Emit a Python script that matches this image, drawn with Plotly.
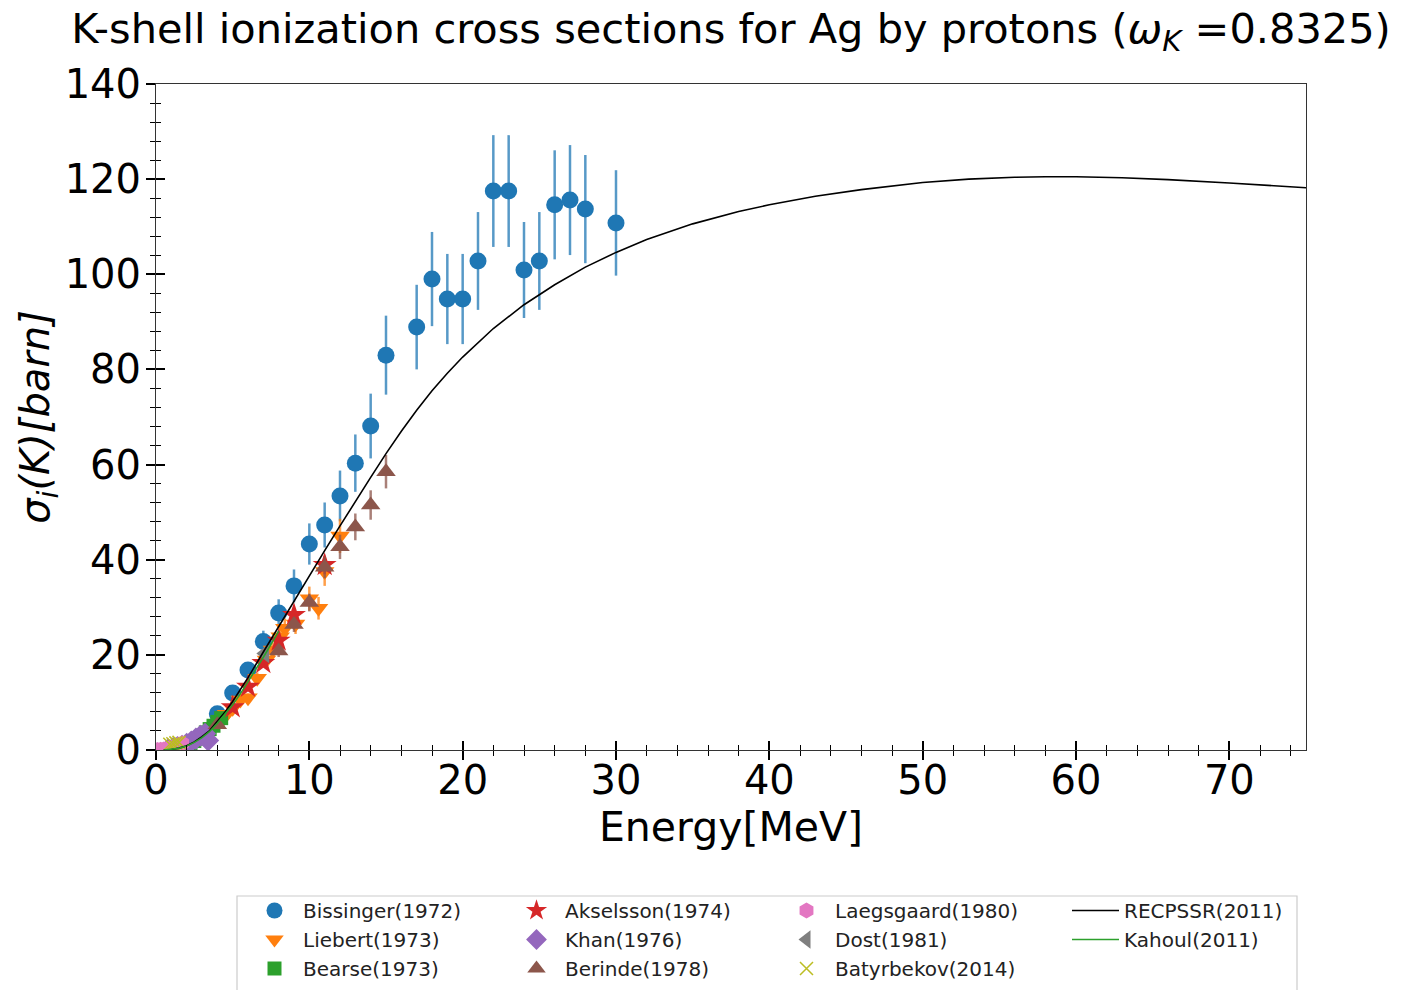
import plotly.graph_objects as go

# ---------------- data ----------------
bis_E = [4, 5, 6, 7, 8, 9, 10, 11, 12, 13, 14, 15, 17, 18, 19, 20, 21, 22, 23, 24, 25, 26, 27, 28, 30]
bis_s = [7.6, 12.0, 16.8, 22.8, 28.8, 34.5, 43.3, 47.3, 53.4, 60.3, 68.1, 83.0, 88.9, 99.0, 94.8, 94.8,
         102.8, 117.5, 117.5, 100.9, 102.8, 114.6, 115.6, 113.7, 110.8]
bis_err_pct = 10

lie_E = [4.3, 4.6, 5.0, 5.5, 6.0, 6.6, 7.2, 7.6, 8.1, 8.4, 9.1, 10.0, 10.6, 11.0, 12.0]
lie_s = [6.3, 7.5, 8.8, 10.5, 11.0, 15.1, 18.9, 21.0, 23.8, 25.6, 26.5, 31.8, 29.8, 37.5, 45.0]
lie_err_pct = 8

bea_E = [2.0, 2.25, 2.5, 2.75, 3.0, 3.25, 3.5, 3.75, 4.0, 4.25]
bea_s = [1.0, 1.4, 1.9, 2.4, 3.0, 3.7, 4.4, 5.1, 5.9, 6.7]
bea_err_pct = 8

aks_E = [5, 6, 7, 8, 9, 11]
aks_s = [9.0, 13.3, 18.3, 23.0, 28.4, 38.9]
aks_err_pct = 5

kha_E = [0.8, 1.1, 1.4, 1.7, 2.0, 2.3, 2.6, 2.9, 3.2, 3.4]
kha_s = [0.15, 0.35, 0.6, 0.9, 1.3, 1.8, 2.4, 3.0, 3.4, 2.0]
kha_err_pct = 6

ber_E = [4, 8, 9, 10, 11, 12, 13, 14, 15]
ber_s = [5.3, 20.8, 26.4, 31.0, 38.4, 42.7, 46.9, 51.5, 58.5]
ber_err_pct = 6

lae_E = [0.1, 0.3, 0.5, 0.7, 0.9, 1.1, 1.3, 1.5, 1.7]
lae_s = [0.01, 0.03, 0.1, 0.2, 0.35, 0.55, 0.8, 1.1, 1.4]
lae_err_pct = 5

dos_E = [7.1]
dos_s = [20.3]
dos_err_pct = 5

bat_E = [0.9, 1.1, 1.3, 1.5]
bat_s = [1.2, 1.3, 1.5, 1.6]
bat_err_pct = 5

rec_E = [0.5, 1, 1.5, 2, 2.5, 3, 3.5, 4, 4.5, 5, 5.5, 6, 7, 8, 9, 10, 11, 12, 13, 14, 15, 16, 17, 18,
         19, 20, 22, 24, 26, 28, 30, 32, 35, 38, 40, 43, 46, 50, 53, 56, 58, 60, 63, 66, 70, 75]
rec_s = [0.01, 0.1, 0.4, 0.9, 1.7, 2.8, 4.1, 6.0, 8.0, 10.2, 12.6, 15.2, 20.6, 26.0, 31.3, 36.6, 41.9,
         47.1, 52.3, 57.3, 62.3, 67.0, 71.4, 75.5, 79.2, 82.6, 88.6, 93.6, 97.8, 101.5, 104.6, 107.3,
         110.6, 113.2, 114.6, 116.4, 117.8, 119.3, 120.0, 120.4, 120.5, 120.5, 120.3, 119.9, 119.2, 118.2]

kah_E = [0.5, 1, 1.5, 2, 2.5, 3, 3.5, 4, 4.5, 5, 5.5, 6, 6.5, 7, 7.5, 8]
kah_s = [0.01, 0.1, 0.35, 0.85, 1.6, 2.6, 3.9, 5.6, 7.5, 9.5, 11.8, 14.3, 16.8, 19.5, 22.2, 25.0]

x_ticks = [0, 10, 20, 30, 40, 50, 60, 70]
y_ticks = [0, 20, 40, 60, 80, 100, 120, 140]

# ---------------- figure ----------------
FONT = "DejaVu Sans"
W, H = 1419, 990
L, R, T, B = 156, 1306, 84, 750


def px_x(p):
    return (p - L) / (R - L)


def px_y(p):
    return (B - p) / (B - T)


def rgba(hex_col, a):
    h = hex_col.lstrip("#")
    return "rgba(%d,%d,%d,%s)" % (int(h[0:2], 16), int(h[2:4], 16), int(h[4:6], 16), a)


fig = go.Figure()

series = [
    # name, E, s, err, color, symbol, size, legend, rank
    ("Bissinger(1972)", bis_E, bis_s, bis_err_pct, "#1f77b4", "circle", 17, "legend", 1),
    ("Liebert(1973)", lie_E, lie_s, lie_err_pct, "#ff7f0e", "triangle-down", 17, "legend", 2),
    ("Bearse(1973)", bea_E, bea_s, bea_err_pct, "#2ca02c", "square", 14, "legend", 3),
    ("Akselsson(1974)", aks_E, aks_s, aks_err_pct, "#d62728", "star", 18, "legend2", 1),
    ("Khan(1976)", kha_E, kha_s, kha_err_pct, "#9467bd", "diamond", 17, "legend2", 2),
    ("Berinde(1978)", ber_E, ber_s, ber_err_pct, "#8c564b", "triangle-up", 17, "legend2", 3),
    ("Laegsgaard(1980)", lae_E, lae_s, lae_err_pct, "#e377c2", "hexagon", 16, "legend3", 1),
    ("Dost(1981)", dos_E, dos_s, dos_err_pct, "#7f7f7f", "triangle-left", 17, "legend3", 2),
]

for name, E, s, err, col, sym, size, leg, rank in series:
    fig.add_trace(go.Scatter(
        x=E, y=s, mode="markers", name=name,
        marker=dict(symbol=sym, size=size, color=col, line=dict(width=0)),
        error_y=dict(type="percent", value=err, color=rgba(col, 0.75), thickness=2.5, width=0),
        legend=leg, legendrank=rank,
    ))

fig.add_trace(go.Scatter(
    x=bat_E, y=bat_s, mode="markers", name="Batyrbekov(2014)",
    marker=dict(symbol="x-thin-open", size=13, color="#bcbd22", line=dict(width=1.5, color="#bcbd22")),
    error_y=dict(type="percent", value=bat_err_pct, color="#bcbd22", thickness=1.5, width=0),
    legend="legend3", legendrank=3,
))

fig.add_trace(go.Scatter(
    x=rec_E, y=rec_s, mode="lines", name="RECPSSR(2011)", line=dict(color="black", width=1.6),
    legend="legend4", legendrank=1,
))
fig.add_trace(go.Scatter(
    x=kah_E, y=kah_s, mode="lines", name="Kahoul(2011)", line=dict(color="#2ca02c", width=1.6),
    legend="legend4", legendrank=2,
))

axis_common = dict(showgrid=False, zeroline=False)

fig.update_layout(
    width=W, height=H,
    margin=dict(l=L, r=W - R, t=T, b=H - B, autoexpand=False),
    paper_bgcolor="white", plot_bgcolor="white",
    font=dict(family=FONT, color="black"),
    title=dict(
        text="K-shell ionization cross sections for Ag by protons (<i>ω</i><sub><i>K</i></sub> =0.8325)",
        font=dict(size=41.5, family=FONT, color="black"),
        x=0.5, xref="paper", xanchor="center",
        y=1 - 28 / H, yref="container", yanchor="middle",
    ),
    xaxis=dict(
        range=[0, 75], tickvals=x_ticks, ticks="outside", ticklen=9, tickwidth=2, tickcolor="black",
        minor=dict(dtick=2, ticks="outside", ticklen=5, tickwidth=1, tickcolor="black"),
        showline=True, linecolor="#333333", linewidth=1, mirror=True,
        tickfont=dict(size=40, family=FONT), ticklabelstandoff=-14,
        title=dict(text="Energy[MeV]", font=dict(size=41, family=FONT), standoff=4),
        **axis_common,
    ),
    yaxis=dict(
        range=[0, 140], tickvals=y_ticks, ticks="outside", ticklen=9, tickwidth=2, tickcolor="black",
        minor=dict(dtick=4, ticks="outside", ticklen=5, tickwidth=1, tickcolor="black"),
        showline=True, linecolor="#333333", linewidth=1, mirror=True,
        tickfont=dict(size=40, family=FONT), ticklabelstandoff=-3,
        title=dict(text="<i>σ<sub>i</sub>(K)[barn]</i>", font=dict(size=40, family=FONT), standoff=2),
        **axis_common,
    ),
    xaxis2=dict(
        range=[0, 75], overlaying="x", anchor="y", side="bottom", tickvals=x_ticks,
        ticks="inside", ticklen=9, tickwidth=2, tickcolor="black", showticklabels=False,
        minor=dict(dtick=2, ticks="inside", ticklen=5, tickwidth=1, tickcolor="black"),
        showline=False, **axis_common,
    ),
    yaxis2=dict(
        range=[0, 140], overlaying="y", anchor="x", side="left", tickvals=y_ticks,
        ticks="inside", ticklen=9, tickwidth=2, tickcolor="black", showticklabels=False,
        minor=dict(dtick=4, ticks="inside", ticklen=5, tickwidth=1, tickcolor="black"),
        showline=False, **axis_common,
    ),
    shapes=[dict(
        type="rect", xref="paper", yref="paper",
        x0=px_x(237), x1=px_x(1297), y0=px_y(896), y1=px_y(996),
        line=dict(color="#cccccc", width=1.2), fillcolor="rgba(0,0,0,0)", layer="below",
    )],
)

leg_common = dict(
    orientation="v", xanchor="left", yanchor="top", yref="paper", xref="paper",
    bgcolor="rgba(0,0,0,0)", borderwidth=0, itemwidth=47, traceorder="normal",
    font=dict(size=20, family=FONT, color="#222222"), itemclick=False,
)
ly = px_y(891)
fig.update_layout(
    legend=dict(x=px_x(246), y=ly, **leg_common),
    legend2=dict(x=px_x(508), y=ly, **leg_common),
    legend3=dict(x=px_x(778), y=ly, **leg_common),
    legend4=dict(x=px_x(1067), y=ly, **leg_common),
)

# empty helper trace so the overlay tick axes are created
fig.add_trace(go.Scatter(x=[], y=[], xaxis="x2", yaxis="y2", showlegend=False, hoverinfo="skip"))

fig.write_html("out.html", config={"displayModeBar": False},
               post_script="document.body.style.margin='0';")
